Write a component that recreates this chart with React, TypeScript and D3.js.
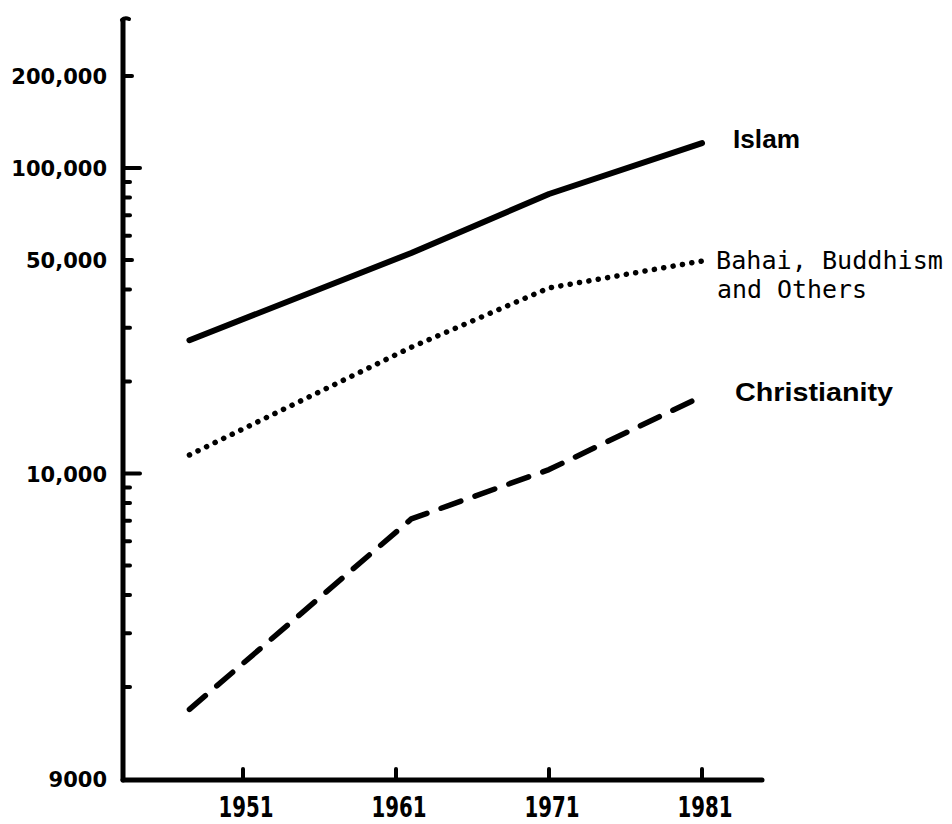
import React from "react";
import * as d3 from "d3";

// ---- data ----
const years = [1947.5, 1962, 1971, 1981];
const islam = [27300, 52700, 82200, 120700];
const bahai = [11500, 25900, 40500, 49600];
const christianity = [1690, 7100, 10300, 17900];

const xTickYears = [1951, 1961, 1971, 1981];
const yLabelValues = [200000, 100000, 50000, 10000, 1000];
const yLabelTexts = ["200,000", "100,000", "50,000", "10,000", "9000"];
const yMinorTicks = [
  2000, 3000, 4000, 5000, 6000, 7000, 8000, 9000,
  20000, 30000, 40000, 60000, 70000, 80000, 90000,
];
const yLongTicks = [100000, 10000];

const W = 952;
const H = 824;

export default function App() {
  const x = d3.scaleLinear().domain([1951, 1981]).range([243, 702]);
  const y = d3
    .scaleLog()
    .domain([1000, 300000])
    .range([779, 779 - 305.5 * Math.log10(300)]);

  const axisX = 123;
  const axisY = 780;

  const line = d3
    .line<number>()
    .x((_, i) => x(years[i]))
    .y((d) => y(d));

  const ink = "#000";
  const yFont = "'DejaVu Sans', sans-serif";
  const xFont = "'DejaVu Sans Condensed', 'Liberation Sans Narrow', sans-serif";
  const monoFont = "'DejaVu Sans Mono', monospace";

  const lastI = years.length - 1;

  return (
    <svg
      width={W}
      height={H}
      viewBox={`0 0 ${W} ${H}`}
      style={{ position: "absolute", left: 0, top: 0, background: "#fff" }}
    >
      <rect x={0} y={0} width={W} height={H} fill="#fff" />

      {/* y axis */}
      <line x1={axisX} y1={20} x2={axisX} y2={axisY} stroke={ink} strokeWidth={5} strokeLinecap="round" />
      <path d={`M${axisX - 1},20 Q${axisX + 2},17 ${axisX + 6},19`} stroke={ink} strokeWidth={4} fill="none" strokeLinecap="round" />
      {/* x axis */}
      <line x1={axisX} y1={axisY} x2={762} y2={axisY} stroke={ink} strokeWidth={5} strokeLinecap="round" />

      {/* y ticks */}
      {yMinorTicks.map((v) => (
        <line key={"m" + v} x1={axisX} x2={axisX + 7} y1={y(v)} y2={y(v)} stroke={ink} strokeWidth={4} strokeLinecap="round" />
      ))}
      {yLabelValues.filter((v) => v !== 1000).map((v) => (
        <line
          key={"M" + v}
          x1={axisX}
          x2={axisX + (yLongTicks.includes(v) ? 17 : 9)}
          y1={y(v)}
          y2={y(v)}
          stroke={ink}
          strokeWidth={4}
          strokeLinecap="round"
        />
      ))}
      {yLabelValues.map((v, i) => (
        <text
          key={"l" + v}
          x={107}
          y={y(v) + 8}
          textAnchor="end"
          fontFamily={yFont}
          fontWeight="bold"
          fontSize={21}
          fill={ink}
        >
          {yLabelTexts[i]}
        </text>
      ))}

      {/* x ticks */}
      {xTickYears.map((yr) => (
        <g key={yr}>
          <line x1={x(yr)} x2={x(yr)} y1={axisY} y2={axisY - 11} stroke={ink} strokeWidth={4} strokeLinecap="round" />
          <text
            x={x(yr) + 3}
            y={817}
            textAnchor="middle"
            fontFamily={xFont}
            fontWeight="bold"
            fontSize={29}
            textLength={55}
            lengthAdjust="spacingAndGlyphs"
            fill={ink}
          >
            {yr}
          </text>
        </g>
      ))}

      {/* series */}
      <path d={line(islam) || ""} fill="none" stroke={ink} strokeWidth={6} strokeLinecap="round" strokeLinejoin="round" />
      <path d={line(bahai) || ""} fill="none" stroke={ink} strokeWidth={5.5} strokeLinecap="round" strokeDasharray="0.1 9.4" />
      <path d={line(christianity) || ""} fill="none" stroke={ink} strokeWidth={5.5} strokeLinecap="round" strokeLinejoin="round" strokeDasharray="21 15" />

      {/* labels */}
      <text x={733} y={y(islam[lastI]) + 5} fontFamily="'Liberation Sans', sans-serif" fontWeight="bold" fontSize={25} textLength={67} lengthAdjust="spacingAndGlyphs" fill={ink}>
        Islam
      </text>
      <text x={716} y={y(bahai[lastI]) + 8} fontFamily={monoFont} fontSize={25} textLength={227} lengthAdjust="spacingAndGlyphs" fill={ink}>
        Bahai, Buddhism
      </text>
      <text x={717} y={y(bahai[lastI]) + 37} fontFamily={monoFont} fontSize={25} textLength={150} lengthAdjust="spacingAndGlyphs" fill={ink}>
        and Others
      </text>
      <text x={735} y={y(christianity[lastI]) + 5} fontFamily="'Liberation Sans', sans-serif" fontWeight="bold" fontSize={25} textLength={158} lengthAdjust="spacingAndGlyphs" fill={ink}>
        Christianity
      </text>
    </svg>
  );
}
